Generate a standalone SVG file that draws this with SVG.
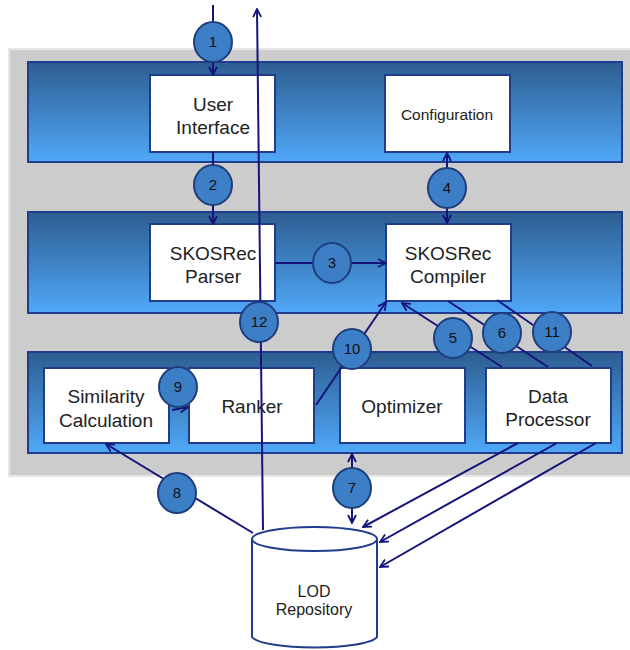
<svg xmlns="http://www.w3.org/2000/svg" width="630" height="650" viewBox="0 0 630 650">
<defs>
<linearGradient id="band" x1="0" y1="0" x2="0" y2="1">
<stop offset="0" stop-color="#2d5d90"/>
<stop offset="1" stop-color="#50a8f8"/>
</linearGradient>
<marker id="ah" viewBox="0 0 10 10" refX="9" refY="5" markerWidth="10" markerHeight="10" markerUnits="userSpaceOnUse" orient="auto-start-reverse">
<path d="M1,1 L9,5 L1,9" fill="none" stroke="#14147a" stroke-width="1.8"/>
</marker>
<style>
.band{fill:url(#band);stroke:#1f3d8c;stroke-width:2}
.box{fill:#ffffff;stroke:#1f3d8c;stroke-width:2}
.t{font-family:"Liberation Sans",Arial,sans-serif;font-size:19px;fill:#222;text-anchor:middle}
.ts{font-family:"Liberation Sans",Arial,sans-serif;font-size:15.5px;fill:#222;text-anchor:middle}
.c{fill:#3d7fc6;stroke:#1f3d7c;stroke-width:2}
.n{font-family:"Liberation Sans",Arial,sans-serif;font-size:15px;fill:#111;text-anchor:middle}
.l{stroke:#14147a;stroke-width:2;fill:none}
.a{marker-end:url(#ah)}
.b{marker-start:url(#ah);marker-end:url(#ah)}
</style>
</defs>
<rect x="9" y="49" width="640" height="427" fill="#cccccc" stroke="#e6e6e6" stroke-width="2"/>
<rect class="band" x="28" y="62" width="594" height="100"/>
<rect class="band" x="28" y="212" width="594" height="101"/>
<rect class="band" x="28" y="352" width="594" height="101"/>

<g id="user-interface"><rect class="box" x="150" y="75" width="125" height="77"/><text class="t" x="213" y="111">User</text><text class="t" x="213" y="134">Interface</text></g>
<g id="configuration"><rect class="box" x="385" y="75" width="125" height="77"/><text class="ts" x="447" y="120">Configuration</text></g>
<g id="skosrec-parser"><rect class="box" x="150" y="224" width="125" height="77"/><text class="t" x="213" y="260">SKOSRec</text><text class="t" x="213" y="283">Parser</text></g>
<g id="skosrec-compiler"><rect class="box" x="386" y="224" width="125" height="77"/><text class="t" x="448" y="260">SKOSRec</text><text class="t" x="448" y="283">Compiler</text></g>
<g id="similarity-calculation"><rect class="box" x="44" y="368" width="125" height="75"/><text class="t" x="106" y="403">Similarity</text><text class="t" x="106" y="427">Calculation</text></g>
<g id="ranker"><rect class="box" x="189" y="368" width="125" height="75"/><text class="t" x="252" y="413">Ranker</text></g>
<g id="optimizer"><rect class="box" x="340" y="368" width="125" height="75"/><text class="t" x="402" y="413">Optimizer</text></g>
<g id="data-processor"><rect class="box" x="486" y="368" width="125" height="75"/><text class="t" x="548" y="403">Data</text><text class="t" x="548" y="426">Processor</text></g>
<g id="lod-repository">
<path d="M252,539 L252,637 A63,12 0 0 0 377,637 L377,539" fill="#fff" stroke="#1f3d8c" stroke-width="2"/>
<ellipse cx="314.5" cy="539" rx="62.5" ry="12" fill="#fff" stroke="#1f3d8c" stroke-width="2"/>
<text class="ts" x="314" y="597" style="font-size:16px">LOD</text><text class="ts" x="314" y="615" style="font-size:16px">Repository</text>
</g>

<g id="connectors">
<line class="l a" x1="213" y1="5" x2="213" y2="75"/>
<line class="l a" x1="263" y1="530" x2="257" y2="9"/>
<line class="l a" x1="213" y1="152" x2="213" y2="224"/>
<line class="l b" x1="447" y1="153" x2="447" y2="223"/>
<line class="l a" x1="275" y1="263" x2="386" y2="263"/>
<line class="l a" x1="502" y1="367" x2="402" y2="303"/>
<line class="l" x1="448" y1="301" x2="548" y2="367"/>
<line class="l" x1="497" y1="300" x2="592" y2="366"/>
<line class="l a" x1="172" y1="410" x2="188" y2="407"/>
<line class="l a" x1="316" y1="405" x2="386" y2="302"/>
<line class="l a" x1="253" y1="533" x2="106" y2="444"/>
<line class="l b" x1="352" y1="454" x2="352" y2="523"/>
<line class="l a" x1="518" y1="443" x2="363" y2="527"/>
<line class="l a" x1="557" y1="443" x2="380" y2="542"/>
<line class="l a" x1="596" y1="443" x2="380" y2="567"/>

<g id="label-1"><ellipse class="c" cx="213" cy="42" rx="19" ry="20"/><text class="n" x="213" y="47">1</text></g>
<g id="label-2"><ellipse class="c" cx="213" cy="185" rx="19" ry="20"/><text class="n" x="213" y="190">2</text></g>
<g id="label-3"><ellipse class="c" cx="332" cy="263" rx="19" ry="20"/><text class="n" x="332" y="268">3</text></g>
<g id="label-4"><ellipse class="c" cx="447" cy="188" rx="19" ry="20"/><text class="n" x="447" y="193">4</text></g>
<g id="label-5"><ellipse class="c" cx="453" cy="338" rx="19" ry="20"/><text class="n" x="453" y="343">5</text></g>
<g id="label-6"><ellipse class="c" cx="502" cy="333" rx="19" ry="20"/><text class="n" x="502" y="338">6</text></g>
<g id="label-7"><ellipse class="c" cx="352" cy="488" rx="19" ry="20"/><text class="n" x="352" y="493">7</text></g>
<g id="label-8"><ellipse class="c" cx="177" cy="493" rx="19" ry="20"/><text class="n" x="177" y="498">8</text></g>
<g id="label-9"><ellipse class="c" cx="178" cy="387" rx="19" ry="20"/><text class="n" x="178" y="392">9</text></g>
<g id="label-10"><ellipse class="c" cx="352" cy="349" rx="19" ry="20"/><text class="n" x="352" y="354">10</text></g>
<g id="label-11"><ellipse class="c" cx="552" cy="332" rx="19" ry="20"/><text class="n" x="552" y="337">11</text></g>
<g id="label-12"><ellipse class="c" cx="259" cy="322" rx="19" ry="20"/><text class="n" x="259" y="327">12</text></g>
</g>
</svg>
